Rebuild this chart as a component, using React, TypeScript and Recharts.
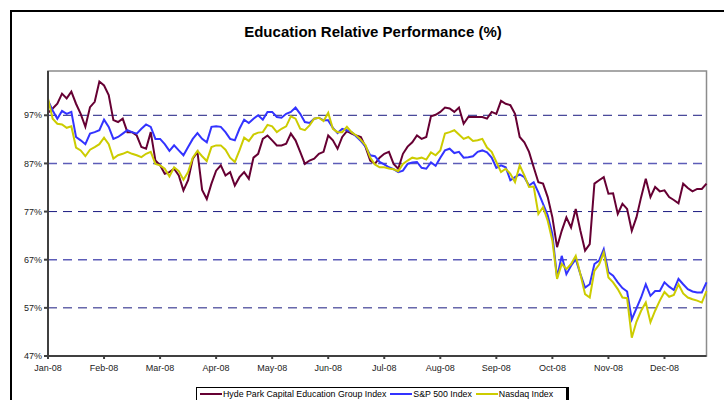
import React from "react";
import { LineChart, Line, XAxis, YAxis, ReferenceLine, ReferenceArea } from "recharts";

// month tick labels, one tick every 12 samples (≈ 2 trading days per sample)
const months = ["Jan-08", "Feb-08", "Mar-08", "Apr-08", "May-08", "Jun-08", "Jul-08", "Aug-08", "Sep-08", "Oct-08", "Nov-08", "Dec-08"];
const yTicks = [47, 57, 67, 77, 87, 97];
const gridValues = [97, 87, 77, 67, 57];

const hyde = [
  97.5, 98.4, 99.4, 101.5, 100.5, 101.9, 99.4, 97.3, 94.6, 98.7,
  99.8, 104.0, 103.2, 101.2, 96.0, 95.6, 96.3, 93.5, 93.5, 92.8,
  90.4, 90.05, 93.5, 87.6, 86.6, 84.85, 85.2, 85.9, 84.5, 81.4,
  83.5, 88.0, 89.4, 81.5, 79.6, 82.8, 85.5, 86.6, 84.5, 85.2,
  82.4, 84.15, 85.2, 83.8, 88.2, 89.0, 92.1, 92.8, 91.8, 90.75,
  90.75, 91.1, 93.2, 91.8, 89.4, 86.9, 87.6, 88.0, 89.0, 89.4,
  92.8, 91.8, 90.05, 92.5, 93.7, 93.2, 92.8, 92.5, 90.4, 87.6,
  86.9, 88.2, 89.0, 89.4, 86.9, 85.9, 89.0, 90.5, 91.4, 92.8,
  92.1, 92.5, 96.8, 97.1, 97.7, 98.6, 98.4, 97.7, 98.6, 95.25,
  96.65, 96.65, 96.65, 96.65, 96.3, 97.7, 97.3, 100.0, 99.4, 99.1,
  97.3, 92.5, 91.4, 89.4, 86.2, 83.1, 82.8, 80.0, 75.8, 69.6,
  73.0, 75.8, 73.7, 77.55, 73.0, 68.9, 70.25, 82.8, 83.5, 84.15,
  80.7, 80.8, 76.5, 78.6, 77.55, 73.0, 75.8, 80.0, 83.8, 80.0,
  82.1, 81.2, 81.4, 80.0, 79.4, 78.7, 82.8, 81.9, 81.2, 81.7,
  81.7, 82.8,
];

const sp500 = [
  100.1, 98.0, 96.3, 97.9, 97.3, 97.7, 92.5, 91.8, 91.0, 93.2,
  93.5, 93.9, 96.1, 94.6, 92.1, 92.5, 93.2, 93.9, 93.5, 93.2,
  94.2, 95.1, 94.6, 92.1, 92.1, 91.0, 89.6, 90.75, 89.7, 88.7,
  90.4, 92.1, 93.3, 92.1, 91.4, 94.6, 94.7, 94.6, 93.5, 92.1,
  91.8, 94.2, 96.1, 95.4, 96.3, 97.0, 96.1, 97.7, 97.7, 96.65,
  96.5, 97.3, 97.7, 98.6, 97.3, 95.6, 95.4, 96.3, 96.5, 95.95,
  95.95, 94.4, 93.3, 94.2, 93.9, 93.5, 92.6, 91.65, 90.5, 88.7,
  88.5, 87.3, 86.8, 86.2, 85.8, 85.2, 85.5, 86.9, 87.2, 87.3,
  86.1, 85.9, 87.2, 86.5, 88.2, 89.7, 90.05, 89.15, 89.4, 88.2,
  88.3, 88.5, 89.4, 89.7, 89.3, 88.2, 86.1, 86.6, 86.2, 83.5,
  84.15, 84.7, 84.15, 82.4, 83.1, 81.0, 78.6, 76.2, 72.3, 63.3,
  67.8, 64.0, 65.75, 67.1, 64.0, 61.2, 61.9, 66.1, 66.8, 69.2,
  64.4, 63.7, 62.3, 61.1, 60.4, 54.6, 56.9, 59.15, 61.9, 59.5,
  60.5, 60.5, 62.3, 61.4, 60.7, 63.0, 61.9, 60.9, 60.4, 60.2,
  60.2, 62.3,
];

const nasdaq = [
  100.5, 96.3, 95.25, 95.1, 94.4, 94.7, 90.3, 89.7, 88.5, 89.85,
  90.4, 91.0, 92.35, 91.0, 88.0, 88.7, 89.0, 89.4, 89.0, 88.7,
  88.3, 89.0, 89.4, 86.9, 86.6, 85.9, 84.3, 86.2, 85.4, 83.6,
  85.2, 88.2, 89.6, 88.5, 87.5, 90.4, 90.75, 90.75, 89.85, 88.2,
  87.3, 89.7, 92.35, 91.65, 93.0, 93.4, 93.5, 95.0, 94.7, 93.5,
  94.2, 94.7, 96.8, 96.3, 94.2, 93.9, 94.9, 96.3, 96.5, 95.8,
  97.5, 94.2, 93.5, 93.5, 94.6, 93.5, 92.8, 91.9, 90.75, 88.2,
  86.8, 86.2, 86.2, 85.95, 85.8, 85.4, 86.9, 87.6, 88.2, 88.0,
  88.2, 87.8, 89.3, 88.7, 89.7, 93.2, 93.5, 93.9, 93.0, 92.1,
  92.5, 91.65, 91.8, 92.1, 90.3, 89.4, 87.3, 85.2, 85.9, 84.85,
  83.1, 86.6, 84.5, 82.1, 82.2, 76.5, 77.9, 75.1, 70.95, 63.0,
  66.1, 65.05, 66.1, 67.8, 64.0, 59.85, 59.15, 64.7, 66.0, 68.5,
  63.3, 62.3, 60.9, 59.15, 59.0, 50.8, 54.1, 56.4, 58.1, 54.0,
  56.4, 58.5, 60.3, 59.3, 59.7, 61.9, 60.0, 59.15, 58.8, 58.5,
  58.1, 60.5,
];

const series = [
  { key: "hyde", name: "Hyde Park Capital Education Group Index", color: "#660033" },
  { key: "sp500", name: "S&P 500 Index", color: "#3333ff" },
  { key: "nasdaq", name: "Nasdaq Index", color: "#cccc00" },
];

const data = hyde.map((v, i) => ({ i, hyde: v, sp500: sp500[i], nasdaq: nasdaq[i] }));
const xTicks = months.map((_, m) => m * 12);

const font = "'Liberation Sans', Arial, sans-serif";

export default function App() {
  return (
    <div style={{ position: "absolute", left: 0, top: 0, width: 724, height: 400, overflow: "hidden", background: "#fff", fontFamily: font }}>
      <div style={{ position: "absolute", left: 10, top: 10, width: 1000, height: 1000, borderTop: "2px solid #000", borderLeft: "2px solid #000" }} />
      <div style={{ position: "absolute", left: 173, top: 23, width: 400, textAlign: "center", fontSize: 15, fontWeight: "bold", color: "#000" }}>
        Education Relative Performance (%)
      </div>
      <div style={{ position: "absolute", left: 0, top: 0 }}>
        <LineChart width={724} height={400} data={data} margin={{ top: 71, right: 17.5, bottom: 24, left: 0 }}>
          <ReferenceArea x1={0} x2={141} y1={47} y2={106.2} fill="none" stroke="#8c8c8c" strokeWidth={1.5} />
          {gridValues.map((v) => (
            <ReferenceLine
              key={v}
              y={v}
              stroke={v === 87 || v === 67 ? "#5d5db8" : "#1a1a80"}
              strokeWidth={v === 87 || v === 67 ? 1.5 : 1}
              strokeDasharray="9 6"
            />
          ))}
          <XAxis
            dataKey="i"
            type="number"
            domain={[0, 141]}
            ticks={xTicks}
            tickFormatter={(v) => months[Math.round(v / 12)]}
            height={20}
            tickSize={3}
            tickMargin={6}
            stroke="#404040"
            strokeWidth={2}
            tick={{ fontSize: 9, fill: "#222", fontFamily: font }}
            interval={0}
          />
          <YAxis
            type="number"
            domain={[47, 106.2]}
            ticks={yTicks}
            allowDataOverflow
            tickFormatter={(v) => `${v}%`}
            width={48}
            tickSize={4}
            tickMargin={2}
            stroke="#404040"
            strokeWidth={2}
            tick={{ fontSize: 9, fill: "#222", fontFamily: font }}
            interval={0}
          />
          {series.map((s) => (
            <Line
              key={s.key}
              dataKey={s.key}
              name={s.name}
              stroke={s.color}
              strokeWidth={2}
              dot={false}
              type="linear"
              isAnimationActive={false}
            />
          ))}
        </LineChart>
      </div>
      <div
        style={{
          position: "absolute",
          left: 196,
          top: 387,
          width: 366,
          height: 30,
          border: "1px solid #000",
          borderRight: "3px solid #000",
          background: "#fff",
          display: "flex",
          alignItems: "flex-start",
          paddingLeft: 3,
          fontSize: 8.8,
          color: "#000",
        }}
      >
        {series.map((s) => (
          <div key={s.key} style={{ display: "flex", alignItems: "center", height: 12, lineHeight: "12px", marginRight: 4 }}>
            <span style={{ display: "inline-block", width: 22, height: 2, background: s.color, marginRight: 1 }} />
            <span>{s.name}</span>
          </div>
        ))}
      </div>
    </div>
  );
}
